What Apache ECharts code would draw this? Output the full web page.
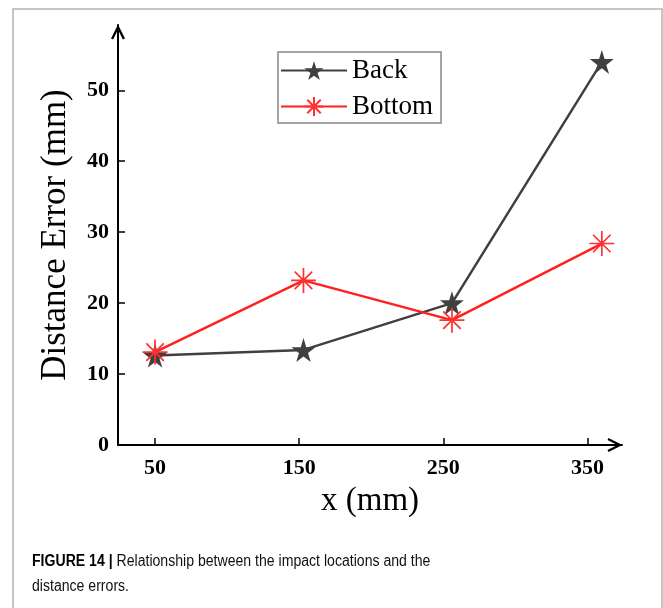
<!DOCTYPE html>
<html>
<head>
<meta charset="utf-8">
<script src="https://cdn.jsdelivr.net/npm/echarts@6/dist/echarts.min.js"></script>
<style>
html,body{margin:0;padding:0;background:#fff;}
#chart{width:663px;height:608px;}
</style>
</head>
<body>
<div id="chart"></div>
<script>
// Data
const xBack = [50, 153, 256, 360];
const yBack = [12.6, 13.4, 20.0, 54.0];
const xBottom = [50, 153, 256, 360];
const yBottom = [13.1, 23.2, 17.6, 28.4];
const xTicks = [50, 150, 250, 350];
const yTicks = [0, 10, 20, 30, 40, 50];
const seriesNames = ['Back', 'Bottom'];

const starPath = 'path://M50,0 L61,35 L98,35 L68,57 L79,91 L50,70 L21,91 L32,57 L2,35 L39,35 Z';
const asteriskPath = 'path://M0,10L20,10M10,0L10,20M3,3L17,17M17,3L3,17';
const arrowPath = 'path://M0,12 L6,0 L12,12 L10.2,12.8 L6,4.4 L1.8,12.8 Z';

const serif = '"Liberation Serif","Times New Roman",Times,serif';

const chart = echarts.init(document.getElementById('chart'), null, {renderer: 'canvas'});
chart.setOption({
  animation: false,
  backgroundColor: '#fff',
  grid: {left: 118, right: 41, top: 25, bottom: 163, containLabel: false},
  legend: {
    orient: 'vertical',
    left: 278, top: 52,
    borderColor: '#888', borderWidth: 1.5,
    padding: [5, 8, 3, 2],
    itemWidth: 66, itemHeight: 24, itemGap: 9,
    textStyle: {fontFamily: serif, fontSize: 27, color: '#000'},
    data: seriesNames
  },
  xAxis: {
    type: 'value', min: 24.3, max: 374,
    axisLine: {show: true, lineStyle: {color: '#000', width: 2}, symbol: ['none', arrowPath], symbolSize: [14, 15], symbolOffset: [0, -7]},
    axisTick: {show: true, inside: true, length: 7, lineStyle: {width: 1.5, color: '#000'}, customValues: xTicks},
    axisLabel: {customValues: xTicks, fontFamily: serif, fontWeight: 'bold', fontSize: 22, color: '#000', margin: 12},
    splitLine: {show: false},
    name: 'x (mm)', nameLocation: 'middle', nameGap: 40,
    nameTextStyle: {fontFamily: serif, fontSize: 33, color: '#000'}
  },
  yAxis: {
    type: 'value', min: 0, max: 59.2,
    axisLine: {show: true, lineStyle: {color: '#000', width: 2}, symbol: ['none', arrowPath], symbolSize: [14, 15], symbolOffset: [0, -7]},
    axisTick: {show: true, inside: true, length: 7, lineStyle: {width: 1.5, color: '#000'}, customValues: yTicks},
    axisLabel: {customValues: yTicks, fontFamily: serif, fontWeight: 'bold', fontSize: 22, color: '#000', margin: 9},
    splitLine: {show: false},
    name: 'Distance Error (mm)', nameLocation: 'middle', nameGap: 45, nameRotate: 90,
    nameTextStyle: {fontFamily: serif, fontSize: 35, color: '#000'}
  },
  series: [
    {
      name: 'Back', type: 'line',
      data: xBack.map((x, i) => [x, yBack[i]]),
      lineStyle: {color: '#404040', width: 2.5},
      itemStyle: {color: '#404040'},
      symbol: starPath, symbolSize: 24, showSymbol: true, z: 2
    },
    {
      name: 'Bottom', type: 'line',
      data: xBottom.map((x, i) => [x, yBottom[i]]),
      lineStyle: {color: '#ff2020', width: 2.5},
      itemStyle: {color: 'rgba(0,0,0,0)', borderColor: '#ff3030', borderWidth: 1.7},
      symbol: asteriskPath, symbolSize: 25, showSymbol: true, z: 3
    }
  ],
  graphic: [
    {type: 'polyline', shape: {points: [[13, 608], [13, 9], [662, 9], [662, 608]]}, style: {stroke: '#b4b4b4', lineWidth: 1.5, fill: null}, silent: true},
    {type: 'text', left: 32, top: 554, scaleX: 0.88,
     style: {
       rich: {b: {fontFamily: '"Liberation Sans",Arial,sans-serif', fontWeight: 'bold', fontSize: 16, fill: '#000'},
              n: {fontFamily: '"Liberation Sans",Arial,sans-serif', fontSize: 16, fill: '#111'}},
       text: '{b|FIGURE 14 | }{n|Relationship between the impact locations and the}'
     }},
    {type: 'text', left: 32, top: 579, scaleX: 0.88,
     style: {fontFamily: '"Liberation Sans",Arial,sans-serif', fontSize: 16, fill: '#111', text: 'distance errors.'}}
  ]
});
</script>
</body>
</html>
